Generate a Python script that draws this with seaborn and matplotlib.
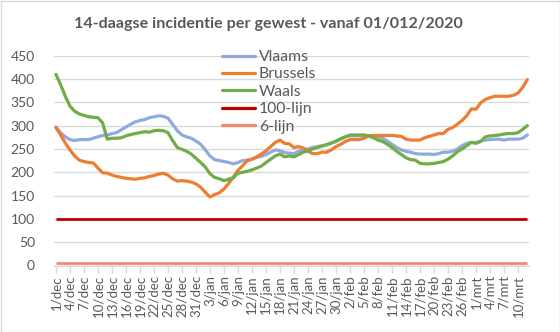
import numpy as np
import pandas as pd
import matplotlib
matplotlib.use("Agg")
import matplotlib.pyplot as plt
import seaborn as sns
from matplotlib.patches import Rectangle
from matplotlib.lines import Line2D

# ---- data (day index 0 = 1 december 2020) ----
vlaams = [297, 285, 276, 270, 268, 270, 270, 270, 273, 276, 279, 280, 283, 285, 291, 297, 303, 308, 311, 313,
          317, 319, 321, 320, 316, 303, 289, 280, 276, 273, 267, 260, 248, 235, 227, 225, 223, 221, 218, 221,
          225, 226, 228, 232, 234, 238, 243, 248, 246, 242, 241, 240, 245, 248, 250, 253, 255, 257, 259, 262,
          266, 271, 276, 278, 278, 278, 278, 278, 277, 276, 273, 267, 260, 253, 248, 245, 243, 240, 239, 239,
          239, 238, 240, 243, 243, 245, 250, 257, 262, 264, 264, 267, 269, 270, 271, 271, 269, 271, 271, 271,
          273, 280]
brussels = [296, 280, 263, 248, 235, 226, 223, 221, 220, 209, 199, 198, 194, 191, 189, 187, 186, 185, 187, 188,
            191, 193, 196, 198, 194, 186, 181, 182, 181, 179, 175, 168, 157, 147, 152, 156, 164, 176, 190, 204,
            214, 225, 228, 233, 239, 246, 255, 264, 269, 262, 261, 253, 255, 252, 245, 240, 240, 243, 243, 248,
            255, 260, 266, 270, 270, 270, 273, 278, 279, 279, 279, 279, 279, 278, 277, 271, 269, 269, 269, 274,
            277, 280, 283, 283, 292, 296, 303, 311, 321, 336, 335, 349, 356, 360, 363, 363, 363, 363, 365, 370,
            382, 399]
waals = [410, 388, 363, 342, 331, 325, 322, 319, 318, 317, 306, 271, 273, 273, 274, 278, 281, 283, 285, 287,
         286, 289, 290, 289, 285, 268, 253, 249, 245, 239, 230, 221, 211, 197, 189, 186, 182, 185, 188, 198,
         200, 202, 205, 209, 213, 221, 228, 235, 239, 233, 235, 233, 238, 243, 246, 250, 253, 256, 259, 263,
         267, 272, 276, 280, 280, 280, 280, 278, 274, 269, 266, 260, 253, 245, 238, 231, 227, 226, 219, 218,
         218, 219, 221, 223, 228, 235, 244, 250, 257, 264, 262, 266, 276, 278, 279, 280, 282, 283, 283, 285,
         292, 300]
line_100 = 100
line_6 = 6

tick_labels = ["1/dec", "4/dec", "7/dec", "10/dec", "13/dec", "16/dec", "19/dec", "22/dec", "25/dec",
               "28/dec", "31/dec", "3/jan", "6/jan", "9/jan", "12/jan", "15/jan", "18/jan", "21/jan",
               "24/jan", "27/jan", "30/jan", "2/feb", "5/feb", "8/feb", "11/feb", "14/feb", "17/feb",
               "20/feb", "23/feb", "26/feb", "1/mrt", "4/mrt", "7/mrt", "10/mrt"]
tick_step = 3

title = "14-daagse incidentie per gewest - vanaf 01/012/2020"

# ---- build frame ----
days = np.arange(len(vlaams))
df = pd.DataFrame({"dag": days, "Vlaams": vlaams, "Brussels": brussels, "Waals": waals})
long = df.melt(id_vars="dag", var_name="gewest", value_name="incidentie")

palette = {"Vlaams": "#8faadc", "Brussels": "#ed7d31", "Waals": "#70ad47"}
grey_txt = "#595959"
grid_c = "#d9d9d9"

sns.set_theme(style="white")
plt.rcParams["font.family"] = ["Lato", "DejaVu Sans"]

fig = plt.figure(figsize=(5.6, 3.32), dpi=100)
ax = fig.add_axes([54.3 / 560, 1 - 265.5 / 332, (529 - 54.3) / 560, (265.5 - 55.7) / 332])

sns.lineplot(data=long, x="dag", y="incidentie", hue="gewest", palette=palette,
             hue_order=["Vlaams", "Brussels", "Waals"], linewidth=2.3, ax=ax, legend=False)
ax.hlines(line_100, days[0], days[-1], color="#c00000", linewidth=2.0)
ax.hlines(line_6, days[0], days[-1], color="#f4896a", linewidth=2.0)

ax.set_xlim(-0.35, days[-1] + 0.35)
ax.set_ylim(0, 450)
ax.set_yticks(np.arange(0, 451, 50))
ax.yaxis.grid(True, color=grid_c, linewidth=1.0)
ax.set_axisbelow(True)
for s in ["top", "right", "left"]:
    ax.spines[s].set_visible(False)
ax.spines["bottom"].set_color(grid_c)
ax.spines["bottom"].set_linewidth(1.0)

ax.set_xticks(days[::tick_step][:len(tick_labels)])
ax.set_xticklabels(tick_labels, rotation=90, fontsize=9.5, color=grey_txt)
ax.tick_params(axis="x", length=5, width=1, color=grid_c, pad=2, bottom=True)
ax.tick_params(axis="y", length=0, pad=14, labelsize=10, labelcolor=grey_txt)
ax.set_xlabel("")
ax.set_ylabel("")

handles = [Line2D([], [], color=palette["Vlaams"], lw=2.3),
           Line2D([], [], color=palette["Brussels"], lw=2.3),
           Line2D([], [], color=palette["Waals"], lw=2.3),
           Line2D([], [], color="#c00000", lw=2.3),
           Line2D([], [], color="#f4896a", lw=2.3)]
labels = ["Vlaams", "Brussels", "Waals", "100-lijn", "6-lijn"]
leg = fig.legend(handles, labels, loc="upper left", bbox_to_anchor=(222 / 560, 1 - 50 / 332),
                 frameon=False, fontsize=11.3, handlelength=2.1, handletextpad=0.25,
                 labelspacing=0.22, borderaxespad=0, borderpad=0)
for t in leg.get_texts():
    t.set_color(grey_txt)

fig.text(268 / 560, 1 - 24 / 332, title, ha="center", va="center", fontsize=11.6, fontweight="bold",
         color=grey_txt)

fig.patches.append(Rectangle((0.5 / 560, 0.5 / 332), 1 - 1 / 560, 1 - 1 / 332, transform=fig.transFigure,
                             fill=False, edgecolor=grid_c, linewidth=1))

fig.savefig("out.png", dpi=100)
